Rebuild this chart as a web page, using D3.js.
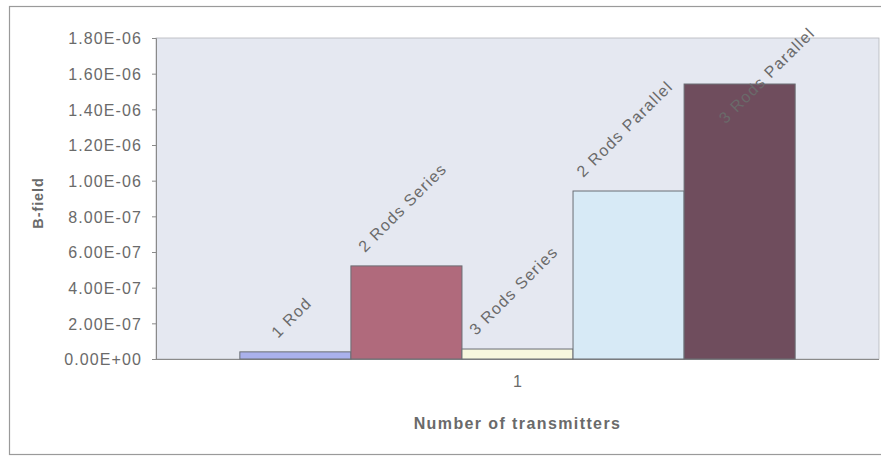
<!DOCTYPE html>
<html>
<head>
<meta charset="utf-8">
<script src="https://cdn.jsdelivr.net/npm/d3@7"></script>
<style>
  html, body { margin: 0; padding: 0; background: #ffffff; }
  svg { display: block; font-family: "Liberation Sans", Arial, sans-serif; }
</style>
</head>
<body>
<svg id="chart" width="881" height="457"></svg>
<script>
// B-field measured for each transmitter configuration
const categories = ["1"];
const seriesNames = ["1 Rod", "2 Rods Series", "3 Rods Series", "2 Rods Parallel", "3 Rods Parallel"];
const seriesValues = [4.0e-8, 5.22e-7, 5.6e-8, 9.42e-7, 1.542e-6];
const seriesColors = ["#aab1ec", "#b06a7c", "#f7f7de", "#d7eaf6", "#6f4d5d"];
const yTicks = [0, 2e-7, 4e-7, 6e-7, 8e-7, 1e-6, 1.2e-6, 1.4e-6, 1.6e-6, 1.8e-6];
const yTickLabels = ["0.00E+00", "2.00E-07", "4.00E-07", "6.00E-07", "8.00E-07",
                     "1.00E-06", "1.20E-06", "1.40E-06", "1.60E-06", "1.80E-06"];
const xTitle = "Number of transmitters";
const yTitle = "B-field";

const svg = d3.select("#chart");
const W = 881, H = 457;
const plot = { left: 156, top: 38, right: 879, bottom: 359 };
const textColor = "#6a6a6a";

// chart area frame
svg.append("rect")
  .attr("x", 9.5).attr("y", 6.5)
  .attr("width", W + 10).attr("height", 448)
  .attr("fill", "#ffffff")
  .attr("stroke", "#9a9a9a").attr("stroke-width", 1.2);

const y = d3.scaleLinear().domain([0, 1.8e-6]).range([plot.bottom, plot.top]);
const x0 = d3.scaleBand().domain(categories).range([plot.left, plot.right]).paddingInner(0).paddingOuter(0.151);
const x1 = d3.scaleBand().domain(seriesNames).range([0, x0.bandwidth()]).padding(0);

// plot area
svg.append("rect")
  .attr("x", plot.left).attr("y", plot.top)
  .attr("width", plot.right - plot.left).attr("height", plot.bottom - plot.top)
  .attr("fill", "#e5e8f1")
  .attr("stroke", "#b4b6bc").attr("stroke-width", 0.8);

// y axis
const yAxis = d3.axisLeft(y)
  .tickValues(yTicks)
  .tickFormat((d, i) => yTickLabels[i])
  .tickSize(4).tickPadding(10);
const gy = svg.append("g").attr("transform", `translate(${plot.left},0)`).call(yAxis);
gy.select(".domain").attr("stroke", "#8a8a8a");
gy.selectAll(".tick line").attr("stroke", "#8a8a8a");
gy.selectAll(".tick text")
  .attr("fill", textColor)
  .attr("dy", "0.36em")
  .style("font-size", "16px")
  .style("letter-spacing", "1.1px");

// x axis
const xAxis = d3.axisBottom(x0).tickSize(0).tickPadding(17);
const gx = svg.append("g").attr("transform", `translate(0,${plot.bottom})`).call(xAxis);
gx.select(".domain").attr("stroke", "#8a8a8a").attr("d", `M${plot.left - 4},0.5H${plot.right}`);
gx.selectAll(".tick text")
  .attr("fill", textColor)
  .style("font-size", "16px");

// bars
const groups = svg.append("g").selectAll("g")
  .data(categories)
  .join("g")
  .attr("transform", d => `translate(${x0(d)},0)`);

groups.selectAll("rect")
  .data(() => seriesNames.map((name, i) => ({ name, value: seriesValues[i], color: seriesColors[i] })))
  .join("rect")
  .attr("x", d => x1(d.name))
  .attr("y", d => y(d.value))
  .attr("width", x1.bandwidth())
  .attr("height", d => y(0) - y(d.value))
  .attr("fill", d => d.color)
  .attr("stroke", "#6a6e74").attr("stroke-width", 1);

// rotated series labels above each bar, kept inside the chart frame
const labelTopLimit = 24;
groups.selectAll("text.lbl")
  .data(() => seriesNames.map((name, i) => ({ name, value: seriesValues[i] })))
  .join("text")
  .attr("class", "lbl")
  .attr("fill", textColor)
  .style("font-size", "16px")
  .style("letter-spacing", "1.3px")
  .text(d => d.name)
  .each(function (d) {
    const len = this.getComputedTextLength();
    const w = len * Math.SQRT1_2;
    const cx = x1(d.name) + x1.bandwidth() / 2;
    let bx = cx - w / 2;
    let by = y(d.value) - 13;
    const topEnd = by - w - 10;
    if (topEnd < labelTopLimit) {
      const shift = labelTopLimit - topEnd;
      by += shift;
      bx += shift * 0.58;
    }
    d3.select(this).attr("transform", `translate(${bx},${by}) rotate(-45)`);
  });

// axis titles
svg.append("text")
  .attr("x", (plot.left + plot.right) / 2).attr("y", 429)
  .attr("text-anchor", "middle")
  .attr("fill", textColor)
  .style("font-size", "16px").style("font-weight", "bold")
  .style("letter-spacing", "1.4px")
  .text(xTitle);

svg.append("text")
  .attr("transform", `translate(43,203) rotate(-90)`)
  .attr("text-anchor", "middle")
  .attr("fill", textColor)
  .style("font-size", "14.5px").style("font-weight", "bold")
  .style("letter-spacing", "0.9px")
  .text(yTitle);
</script>
</body>
</html>
